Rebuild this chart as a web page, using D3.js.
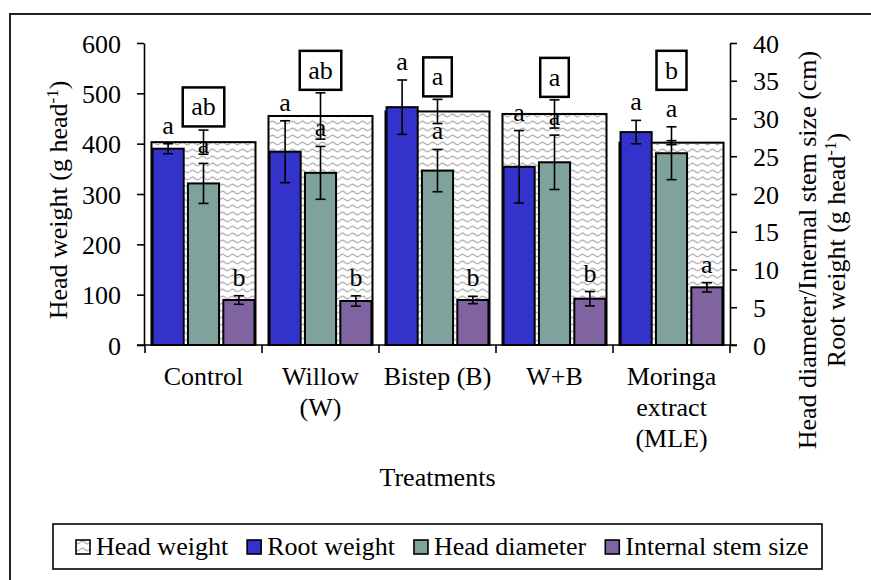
<!DOCTYPE html>
<html>
<head>
<meta charset="utf-8">
<script src="https://cdn.jsdelivr.net/npm/d3@7"></script>
</head>
<body style="margin:0">
<svg id="chart" width="871" height="580"></svg>
<script>
// Treatments and their axis labels (split into lines)
const categories = ["Control", "Willow (W)", "Bistep (B)", "W+B", "Moringa extract (MLE)"];
const categoryLines = [["Control"], ["Willow", "(W)"], ["Bistep (B)"], ["W+B"], ["Moringa", "extract", "(MLE)"]];

// Head weight (g head-1), left axis
const headWeight        = [403, 455, 464, 459, 402];
const headWeightErr     = [24, 46, 24, 28, 4];
const headWeightLetters = ["ab", "ab", "a", "a", "b"];

// Root weight (g head-1), right axis
const rootWeight        = [26.0, 25.6, 31.5, 23.6, 28.2];
const rootWeightErr     = [0.66, 4.1, 3.6, 4.8, 1.55];
const rootWeightLetters = ["a", "a", "a", "a", "a"];

// Head diameter (cm), right axis
const headDiameter        = [21.4, 22.8, 23.1, 24.2, 25.4];
const headDiameterErr     = [2.65, 3.5, 2.8, 3.6, 3.5];
const headDiameterLetters = ["a", "a", "a", "a", "a"];

// Internal stem size (cm), right axis
const stemSize        = [5.96, 5.83, 5.96, 6.13, 7.64];
const stemSizeErr     = [0.57, 0.68, 0.49, 0.95, 0.62];
const stemSizeLetters = ["b", "b", "b", "b", "a"];

const leftTicks  = [0, 100, 200, 300, 400, 500, 600];
const rightTicks = [0, 5, 10, 15, 20, 25, 30, 35, 40];
const seriesNames = ["Head weight", "Root weight", "Head diameter", "Internal stem size"];
const seriesColors = ["url(#wave)", "#3333cc", "#7fa29d", "#8064a2"];

const FONT = 26;
const SERIF = "'Liberation Serif', monospace";
const svg = d3.select("#chart");

// wavy hatch used for the head weight columns
const defs = svg.append("defs");
const pat = defs.append("pattern").attr("id", "wave")
  .attr("patternUnits", "userSpaceOnUse").attr("width", 10).attr("height", 7);
pat.append("rect").attr("width", 10).attr("height", 7).attr("fill", "#fff");
pat.append("path").attr("d", "M0,3.5 Q2.5,1 5,3.5 T10,3.5")
  .attr("fill", "none").attr("stroke", "#b5b5b5").attr("stroke-width", 1.2);

// outer frame
svg.append("rect").attr("x", 10).attr("y", 14).attr("width", 880).attr("height", 600)
  .attr("fill", "none").attr("stroke", "#222").attr("stroke-width", 2);

// scales
const x = d3.scaleBand().domain(categories).range([145, 730])
  .paddingInner(0.111).paddingOuter(0.0555);
const sub = d3.scaleBand().domain([1, 2, 3]).range([0, x.bandwidth()])
  .paddingInner(0.12).paddingOuter(0.03);
const yL = d3.scaleLinear().domain([0, 600]).range([345, 43]);
const yR = d3.scaleLinear().domain([0, 40]).range([345, 43]);

// all labels are created through this helper so each carries its own face and size
function label(parent, xPos, yPos, str, anchor) {
  return parent.append("text").attr("x", xPos).attr("y", yPos)
    .attr("font-family", SERIF).attr("font-size", FONT)
    .attr("text-anchor", anchor || "start").attr("fill", "#000").text(str);
}

const plot = svg.append("g");

// head weight columns (full group width)
plot.selectAll(".hw").data(categories).join("rect")
  .attr("x", d => x(d)).attr("width", x.bandwidth())
  .attr("y", (d, i) => yL(headWeight[i]))
  .attr("height", (d, i) => yL(0) - yL(headWeight[i]))
  .attr("fill", "url(#wave)").attr("stroke", "#000").attr("stroke-width", 2);

// clustered secondary-axis series
const secondary = [
  { vals: rootWeight, err: rootWeightErr, letters: rootWeightLetters, color: seriesColors[1], slot: 1 },
  { vals: headDiameter, err: headDiameterErr, letters: headDiameterLetters, color: seriesColors[2], slot: 2 },
  { vals: stemSize, err: stemSizeErr, letters: stemSizeLetters, color: seriesColors[3], slot: 3 }
];

secondary.forEach(s => {
  plot.selectAll(null).data(categories).join("rect")
    .attr("x", d => x(d) + sub(s.slot)).attr("width", sub.bandwidth())
    .attr("y", (d, i) => yR(s.vals[i]))
    .attr("height", (d, i) => yR(0) - yR(s.vals[i]))
    .attr("fill", s.color).attr("stroke", "#000").attr("stroke-width", 2);
});

// error bars
function errorBar(cx, yTop, yBot) {
  const g = plot.append("g").attr("stroke", "#000").attr("stroke-width", 1.6);
  g.append("line").attr("x1", cx).attr("x2", cx).attr("y1", yTop).attr("y2", yBot);
  g.append("line").attr("x1", cx - 5).attr("x2", cx + 5).attr("y1", yTop).attr("y2", yTop);
  g.append("line").attr("x1", cx - 5).attr("x2", cx + 5).attr("y1", yBot).attr("y2", yBot);
}
categories.forEach((c, i) => {
  const cx = x(c) + x.bandwidth() / 2;
  errorBar(cx, yL(headWeight[i] + headWeightErr[i]), yL(headWeight[i] - headWeightErr[i]));
  secondary.forEach(s => {
    const bx = x(c) + sub(s.slot) + sub.bandwidth() / 2;
    errorBar(bx, yR(s.vals[i] + s.err[i]), yR(s.vals[i] - s.err[i]));
  });
});

// significance letters above the clustered bars
const LETTER_GAP = 10;
secondary.forEach(s => {
  categories.forEach((c, i) => {
    label(plot, x(c) + sub(s.slot) + sub.bandwidth() / 2,
      yR(s.vals[i] + s.err[i]) - LETTER_GAP, s.letters[i], "middle");
  });
});

// boxed letters for head weight, kept clear of the error bar and the diameter letter
categories.forEach((c, i) => {
  const cx = x(c) + x.bandwidth() / 2;
  const hwTop = yL(headWeight[i] + headWeightErr[i]);
  const hdLetterTop = yR(headDiameter[i] + headDiameterErr[i]) - LETTER_GAP - 24;
  const bottom = Math.min(hwTop, hdLetterTop) - 3;
  const g = plot.append("g");
  const t = label(g, cx, bottom - 11, headWeightLetters[i], "middle");
  const w = t.node().getComputedTextLength() + 17;
  g.insert("rect", "text").attr("x", cx - w / 2).attr("y", bottom - 39)
    .attr("width", w).attr("height", 39)
    .attr("fill", "#fff").attr("stroke", "#000").attr("stroke-width", 2.5);
});

// value axes: lines and ticks from d3, labels set in the serif face
function valueAxis(axis, xPos, anchor, dx) {
  const g = svg.append("g").attr("transform", `translate(${xPos},0)`)
    .call(axis.tickSize(7).tickSizeOuter(0).tickFormat(""));
  g.selectAll("path, line").attr("stroke", "#000").attr("stroke-width", 1.6);
  g.selectAll(".tick").each(function (d) {
    label(d3.select(this), dx, 9, String(d), anchor);
  });
  return g;
}
valueAxis(d3.axisLeft(yL).tickValues(leftTicks), 144, "end", -23);
valueAxis(d3.axisRight(yR).tickValues(rightTicks), 730, "start", 23);

// category axis: baseline with ticks between groups
const gap = (x.step() - x.bandwidth()) / 2;
const bounds = categories.map(c => x(c) - gap).concat([x(categories[categories.length - 1]) + x.bandwidth() + gap]);
svg.append("line").attr("x1", 137).attr("x2", 737).attr("y1", yL(0)).attr("y2", yL(0))
  .attr("stroke", "#000").attr("stroke-width", 1.6);
svg.selectAll(".xt").data(bounds).join("line")
  .attr("x1", d => d).attr("x2", d => d).attr("y1", yL(0)).attr("y2", yL(0) + 8)
  .attr("stroke", "#000").attr("stroke-width", 1.6);
categories.forEach((c, i) => {
  categoryLines[i].forEach((line, j) => {
    label(svg, x(c) + x.bandwidth() / 2, 385 + j * 31, line, "middle");
  });
});

// axis titles
label(svg, 437.5, 486, "Treatments", "middle");

function rotatedTitle(tx, ty, before, sup, after) {
  const t = svg.append("text").attr("transform", `translate(${tx},${ty}) rotate(-90)`)
    .attr("font-family", SERIF).attr("font-size", FONT).attr("text-anchor", "middle").attr("fill", "#000");
  t.append("tspan").attr("font-family", SERIF).text(before);
  if (sup) {
    t.append("tspan").attr("font-family", SERIF).attr("baseline-shift", "super").attr("font-size", 17).text(sup);
    t.append("tspan").attr("font-family", SERIF).text(after);
  }
}
rotatedTitle(67, 200, "Head weight (g head", "-1", ")");
rotatedTitle(816, 250, "Head diameter/Internal stem size (cm)");
rotatedTitle(845, 250, "Root weight (g head", "-1", ")");

// legend
svg.append("rect").attr("x", 53).attr("y", 524).attr("width", 769).attr("height", 45)
  .attr("fill", "#fff").attr("stroke", "#000").attr("stroke-width", 1.6);
let lx = 76;
seriesNames.forEach((name, i) => {
  svg.append("rect").attr("x", lx).attr("y", 540).attr("width", 14).attr("height", 14)
    .attr("fill", seriesColors[i]).attr("stroke", "#000").attr("stroke-width", 1.6);
  const t = label(svg, lx + 20, 555, name);
  lx += 20 + t.node().getComputedTextLength() + 19;
});
</script>
</body>
</html>
